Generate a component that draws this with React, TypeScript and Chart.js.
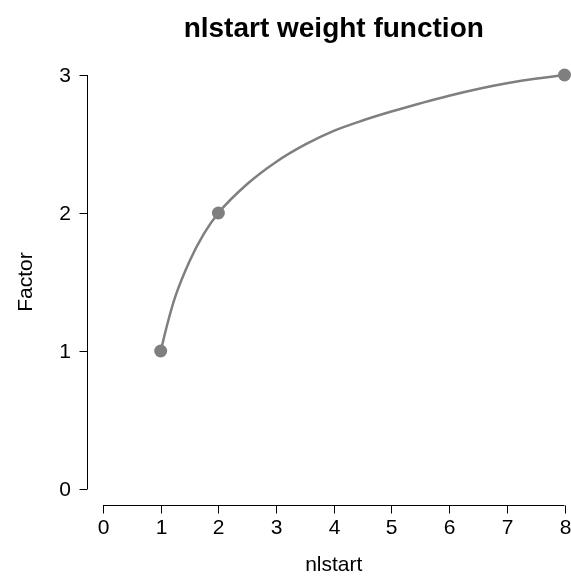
import React, { useEffect, useRef } from "react";
import { Chart, registerables } from "chart.js";

Chart.register(...registerables);

const TITLE = "nlstart weight function";
const X_LABEL = "nlstart";
const Y_LABEL = "Factor";

// smooth curve
const CURVE_X = [1, 1.125, 1.25, 1.5, 1.75, 2, 2.5, 3, 3.5, 4, 4.5, 5, 6, 7, 8];
const CURVE_Y = [1, 1.21, 1.39, 1.65, 1.85, 2, 2.21, 2.37, 2.495, 2.595, 2.67, 2.735, 2.85, 2.94, 3];

// marked points
const POINT_X = [1, 2, 8];
const POINT_Y = [1, 2, 3];

// tick labels
const X_TICKS = [0, 1, 2, 3, 4, 5, 6, 7, 8];
const Y_TICKS = [0, 1, 2, 3];

const W = 571;
const H = 576;
const FONT = "'Liberation Sans', Arial, Helvetica, sans-serif";
const GRAY = "#7f7f7f";

const axesPlugin = {
  id: "rAxes",
  afterDraw(chart: any) {
    const ctx = chart.ctx as CanvasRenderingContext2D;
    const xs = chart.scales.x;
    const ys = chart.scales.y;
    const area = chart.chartArea;
    const yAxisX = area.left - 16;
    const xAxisY = area.bottom + 16;
    const tick = 8;
    ctx.save();
    ctx.strokeStyle = "#000";
    ctx.fillStyle = "#000";
    ctx.lineWidth = 1;

    // y axis
    const y0 = ys.getPixelForValue(Y_TICKS[0]);
    const y1 = ys.getPixelForValue(Y_TICKS[Y_TICKS.length - 1]);
    ctx.beginPath();
    ctx.moveTo(Math.round(yAxisX) + 0.5, y0);
    ctx.lineTo(Math.round(yAxisX) + 0.5, y1);
    ctx.stroke();
    ctx.font = `21px ${FONT}`;
    ctx.textAlign = "right";
    ctx.textBaseline = "middle";
    Y_TICKS.forEach((v) => {
      const py = Math.round(ys.getPixelForValue(v)) + 0.5;
      ctx.beginPath();
      ctx.moveTo(Math.round(yAxisX) + 0.5, py);
      ctx.lineTo(Math.round(yAxisX) + 0.5 - tick, py);
      ctx.stroke();
      ctx.fillText(String(v), yAxisX - tick - 8, py + 1);
    });

    // x axis
    const x0 = xs.getPixelForValue(X_TICKS[0]);
    const x1 = xs.getPixelForValue(X_TICKS[X_TICKS.length - 1]);
    ctx.beginPath();
    ctx.moveTo(x0, Math.round(xAxisY) + 0.5);
    ctx.lineTo(x1, Math.round(xAxisY) + 0.5);
    ctx.stroke();
    ctx.textAlign = "center";
    ctx.textBaseline = "top";
    X_TICKS.forEach((v) => {
      const px = Math.round(xs.getPixelForValue(v)) + 0.5;
      ctx.beginPath();
      ctx.moveTo(px, Math.round(xAxisY) + 0.5);
      ctx.lineTo(px, Math.round(xAxisY) + 0.5 + tick);
      ctx.stroke();
      ctx.fillText(String(v), px, xAxisY + tick + 5);
    });

    // axis titles
    ctx.textBaseline = "alphabetic";
    ctx.fillText(X_LABEL, (area.left + area.right) / 2, 571);
    ctx.save();
    ctx.translate(32, (area.top + area.bottom) / 2);
    ctx.rotate(-Math.PI / 2);
    ctx.textAlign = "center";
    ctx.fillText(Y_LABEL, 0, 0);
    ctx.restore();

    // main title
    ctx.font = `bold 28px ${FONT}`;
    ctx.textAlign = "center";
    ctx.fillText(TITLE, (area.left + area.right) / 2, 37);
    ctx.restore();
  },
};

export default function App() {
  const ref = useRef<HTMLCanvasElement>(null);
  useEffect(() => {
    if (!ref.current) return;
    const chart = new Chart(ref.current, {
      type: "scatter",
      data: {
        datasets: [
          {
            label: "curve",
            data: CURVE_X.map((x, i) => ({ x, y: CURVE_Y[i] })),
            showLine: true,
            cubicInterpolationMode: "monotone",
            borderColor: GRAY,
            borderWidth: 2.5,
            pointRadius: 0,
            pointHoverRadius: 0,
            clip: false,
          } as any,
          {
            label: "points",
            data: POINT_X.map((x, i) => ({ x, y: POINT_Y[i] })),
            showLine: false,
            pointRadius: 6.5,
            pointBackgroundColor: GRAY,
            pointBorderColor: GRAY,
            pointBorderWidth: 0,
            clip: false,
          } as any,
        ],
      },
      options: {
        animation: false,
        responsive: false,
        events: [],
        layout: { padding: { left: 103, right: W - 565, top: 75, bottom: H - 489 } },
        plugins: { legend: { display: false }, tooltip: { enabled: false }, title: { display: false } },
        scales: {
          x: { type: "linear", min: 0, max: 8, display: false },
          y: { type: "linear", min: 0, max: 3, display: false },
        },
      },
      plugins: [axesPlugin],
    });
    return () => chart.destroy();
  }, []);
  return (
    <div style={{ position: "absolute", left: 0, top: 0, width: W, height: H, background: "#fff" }}>
      <canvas ref={ref} width={W} height={H} style={{ display: "block", width: W, height: H }} />
    </div>
  );
}
